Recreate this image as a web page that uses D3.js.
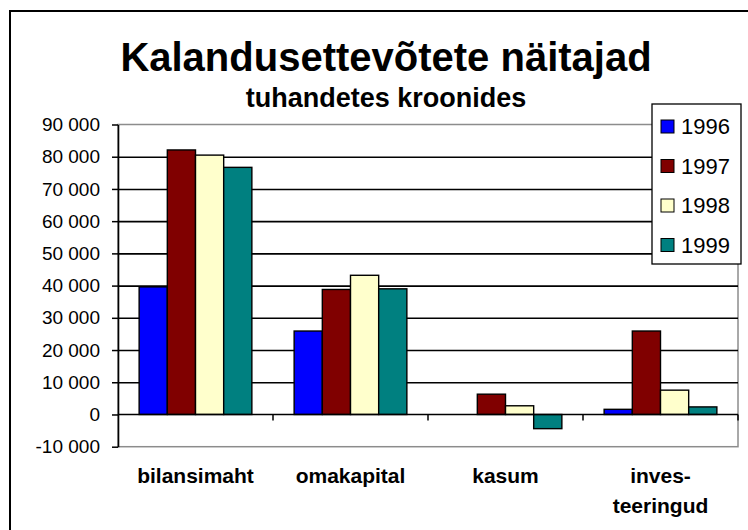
<!DOCTYPE html>
<html>
<head>
<meta charset="utf-8">
<script src="https://cdn.jsdelivr.net/npm/d3@7"></script>
<style>
  body { margin: 0; background: #fff; }
  svg { display: block; font-family: Arial, 'Liberation Sans', sans-serif; }
</style>
</head>
<body>
<div class="chart"></div>
<script>
// data (thousands of kroons)
var categories = ['bilansimaht', 'omakapital', 'kasum', 'inves-\nteeringud']
var years = ['1996', '1997', '1998', '1999']
var values1996 = [39600, 25900, 0, 1600]
var values1997 = [82100, 38800, 6300, 25900]
var values1998 = [80500, 43200, 2700, 7550]
var values1999 = [76700, 39000, -4400, 2350]
var yTicks = [-10000, 0, 10000, 20000, 30000, 40000, 50000, 60000, 70000, 80000, 90000]

var series = [values1996, values1997, values1998, values1999]
var colors = ['#0000ff', '#800000', '#ffffcc', '#008080']

document.addEventListener('DOMContentLoaded', () => {
  var width = 748
  var height = 530
  var plot = { left: 118, right: 738, top: 124.5, bottom: 446.7 }

  // estonian style numbers: "90 000", "-10 000"
  var locale = d3.formatLocale({ decimal: ',', thousands: ' ', grouping: [3], currency: ['', ''], minus: '-' })
  var fmt = locale.format(',d')

  var svg = d3.select('.chart').append('svg')
    .attr('width', width)
    .attr('height', height)

  // outer chart frame (right and bottom edges fall outside the picture)
  svg.append('rect')
    .attr('x', 10).attr('y', 11)
    .attr('width', width + 20).attr('height', height + 20)
    .attr('fill', '#fff')
    .attr('stroke', '#000')
    .attr('stroke-width', 2)

  var x0 = d3.scaleBand()
    .domain(categories)
    .range([plot.left, plot.right])

  // excel gap width 150% -> 0.75 bar on each side
  var x1 = d3.scaleBand()
    .domain(years)
    .range([0, x0.bandwidth()])
    .paddingOuter(0.75)

  var y = d3.scaleLinear()
    .domain([yTicks[0], yTicks[yTicks.length - 1]])
    .range([plot.bottom, plot.top])

  // ****************** plot area ***************************
  svg.append('rect')
    .attr('x', plot.left).attr('y', plot.top)
    .attr('width', plot.right - plot.left)
    .attr('height', plot.bottom - plot.top)
    .attr('fill', '#fff')
    .attr('stroke', '#8c8c8c')
    .attr('stroke-width', 1.5)

  // gridlines
  svg.append('g')
    .attr('transform', 'translate(' + plot.left + ',0)')
    .call(d3.axisLeft(y)
      .tickValues(yTicks.filter(v => v > 0 && v < yTicks[yTicks.length - 1]))
      .tickSize(-(plot.right - plot.left))
      .tickFormat(''))
    .call(g => g.select('.domain').remove())
    .selectAll('line')
    .attr('stroke', '#000')
    .attr('stroke-width', 1.6)

  // ****************** bars ***************************
  var group = svg.selectAll('g.group')
    .data(categories)
    .enter().append('g')
    .attr('class', 'group')
    .attr('transform', d => 'translate(' + x0(d) + ',0)')

  group.selectAll('rect')
    .data((d, i) => series.map((s, k) => ({ year: years[k], value: s[i], color: colors[k] })))
    .enter().append('rect')
    .filter(d => d.value !== 0)
    .attr('x', d => x1(d.year))
    .attr('width', x1.bandwidth())
    .attr('y', d => Math.min(y(d.value), y(0)))
    .attr('height', d => Math.abs(y(d.value) - y(0)))
    .attr('fill', d => d.color)
    .attr('stroke', '#000')
    .attr('stroke-width', 1.4)

  // ****************** axes ***************************
  // category axis sits on zero, ticks between the groups
  var xAxis = svg.append('g')
  xAxis.append('line')
    .attr('x1', plot.left).attr('x2', plot.right)
    .attr('y1', y(0)).attr('y2', y(0))
    .attr('stroke', '#000')
    .attr('stroke-width', 1.6)
  xAxis.selectAll('line.tick')
    .data(categories.slice(1).concat(['end']))
    .enter().append('line')
    .attr('class', 'tick')
    .attr('x1', d => d === 'end' ? plot.right : x0(d))
    .attr('x2', d => d === 'end' ? plot.right : x0(d))
    .attr('y1', y(0)).attr('y2', y(0) + 6)
    .attr('stroke', '#000')
    .attr('stroke-width', 1.5)

  // category labels, possibly on two lines
  svg.append('g').selectAll('text')
    .data(categories)
    .enter().append('text')
    .attr('text-anchor', 'middle')
    .attr('font-weight', 'bold')
    .attr('font-size', 21)
    .attr('fill', '#000')
    .each(function (d) {
      var lines = d.split('\n')
      d3.select(this).selectAll('tspan')
        .data(lines)
        .enter().append('tspan')
        .attr('x', x0(d) + x0.bandwidth() / 2)
        .attr('y', (l, i) => 483 + i * 30)
        .text(l => l)
    })

  // value axis
  svg.append('g')
    .attr('transform', 'translate(' + plot.left + ',0)')
    .call(d3.axisLeft(y)
      .tickValues(yTicks)
      .tickSize(6)
      .tickSizeOuter(0)
      .tickPadding(12)
      .tickFormat(fmt))
    .call(g => g.select('.domain').attr('stroke', '#000').attr('stroke-width', 1.6))
    .call(g => g.selectAll('.tick line').attr('stroke', '#000').attr('stroke-width', 1.5))
    .call(g => g.selectAll('.tick text')
      .attr('font-size', 19)
      .attr('font-family', 'Arial, Liberation Sans, sans-serif')
      .attr('fill', '#000'))

  // ****************** legend ***************************
  var legend = svg.append('g')
    .attr('transform', 'translate(652,104)')
  legend.append('rect')
    .attr('width', 89).attr('height', 160)
    .attr('fill', '#fff')
    .attr('stroke', '#000')
    .attr('stroke-width', 1.3)
  var item = legend.selectAll('g.item')
    .data(years)
    .enter().append('g')
    .attr('class', 'item')
    .attr('transform', (d, i) => 'translate(0,' + (22.5 + i * 39.5) + ')')
  item.append('rect')
    .attr('x', 9).attr('y', -6.5)
    .attr('width', 13).attr('height', 13)
    .attr('fill', (d, i) => colors[i])
    .attr('stroke', '#000')
    .attr('stroke-width', 1)
  item.append('text')
    .attr('x', 29)
    .attr('dy', '0.36em')
    .attr('font-size', 22)
    .attr('fill', '#000')
    .text(d => d)

  // ****************** titles ***************************
  svg.append('text')
    .attr('x', 386).attr('y', 71)
    .attr('text-anchor', 'middle')
    .attr('font-weight', 'bold')
    .attr('font-size', 40)
    .text('Kalandusettevõtete näitajad')

  svg.append('text')
    .attr('x', 386).attr('y', 107)
    .attr('text-anchor', 'middle')
    .attr('font-weight', 'bold')
    .attr('font-size', 27)
    .text('tuhandetes kroonides')
})
</script>
</body>
</html>
